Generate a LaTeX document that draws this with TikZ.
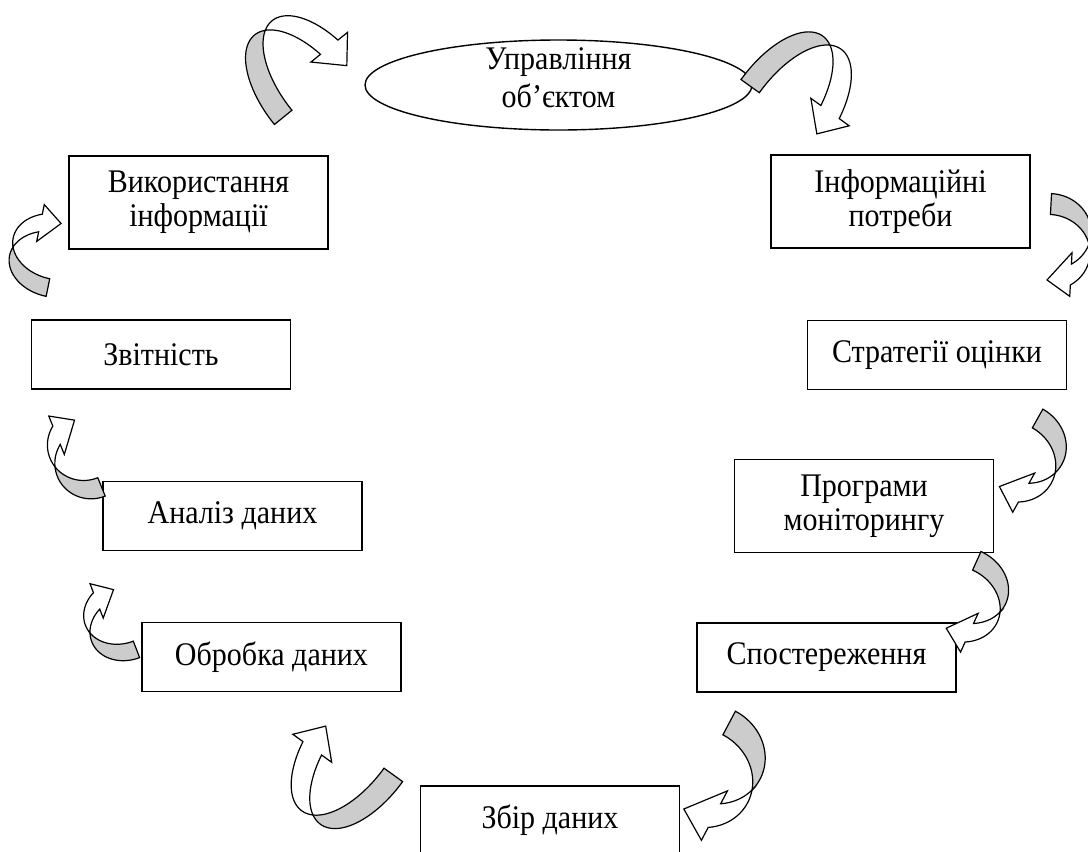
\documentclass[tikz,border=0pt]{standalone}
\usepackage{fontspec}
\setmainfont{Liberation Serif}[FakeStretch=0.91]
\usetikzlibrary{positioning}
\usetikzlibrary{shapes.geometric}

\tikzset{
  stage/.style={draw, line width=0.7pt, align=center, inner sep=0pt,
    font=\fontsize{16.5}{17}\selectfont, minimum width=129.5pt, minimum height=34.5pt},
  twoline/.style={minimum height=46.5pt},
  backside/.style={draw, line width=0.6pt, fill=black!20},
  frontside/.style={draw, line width=0.6pt, fill=white}
}

% curved ribbon arrow: #1 centre, #2 rotation, #3 depth, #4 half span
\newcommand{\ribbonarrow}[4]{%
  \begin{scope}[shift={#1}, rotate=#2]
    \pgfmathsetmacro{\rbnA}{#3}
    \pgfmathsetmacro{\rbnB}{#4}
    \pgfmathsetmacro{\rbnT}{0.55*\rbnB}
    \pgfmathsetmacro{\rbnH}{0.62*\rbnB}
    \pgfmathsetmacro{\rbnE}{0.3*\rbnB}
    \pgfmathsetmacro{\rbnAl}{asin(\rbnT/(2*\rbnB))}
    \pgfmathsetmacro{\rbnF}{180+\rbnAl}
    \pgfmathsetmacro{\rbnG}{180-\rbnAl}
    \pgfmathsetmacro{\rbnK}{360-acos(-\rbnH/\rbnA)}
    \pgfmathsetmacro{\rbnI}{\rbnT/2+\rbnB*sin(\rbnK)+\rbnE}
    \pgfmathsetmacro{\rbnO}{-\rbnT/2+\rbnB*sin(\rbnK)-\rbnE}
    % back of the ribbon
    \draw[backside] plot[domain=90:\rbnF, samples=30] ({\rbnA*cos(\x)},{\rbnT/2+\rbnB*sin(\x)})
      -- plot[domain=\rbnG:90, samples=30] ({\rbnA*cos(\x)},{-\rbnT/2+\rbnB*sin(\x)}) -- cycle;
    % front of the ribbon with the head
    \draw[frontside] plot[domain=\rbnF:\rbnK, samples=30] ({\rbnA*cos(\x)},{\rbnT/2+\rbnB*sin(\x)})
      -- ({-\rbnH},\rbnI) -- ({0},{-\rbnB}) -- ({-\rbnH},\rbnO)
      -- plot[domain=\rbnK:\rbnG, samples=30] ({\rbnA*cos(\x)},{-\rbnT/2+\rbnB*sin(\x)}) -- cycle;
  \end{scope}}

\begin{document}
\begin{tikzpicture}[x=0.5pt, y=-0.5pt]
\useasboundingbox (0,0) rectangle (1088,852);

% --- object in the middle of the top ---
\node[ellipse, draw, line width=0.7pt, minimum width=193.5pt, minimum height=45pt,
  inner sep=0pt] (upr) at (558.5,85) {};
\node[align=center, inner sep=0pt, font=\fontsize{16.5}{19}\selectfont]
  (uprtext) at (558.5,78) {Управління\\об’єктом};

% --- right branch ---
\node[stage, twoline] (potreby) at (900.5,201.5) {Інформаційні\\потреби};
\node[stage] (strat) at (937,355) {Стратегії оцінки};
\node[stage, twoline] (prog) at (864,506) {Програми\\моніторингу};
\node[stage] (spost) at (826.5,657.5) {Спостереження};

% --- bottom ---
\node[stage, minimum height=34pt] (zbir) at (550,820) {Збір даних};

% --- left branch ---
\node[stage] (obrob) at (271.5,657) {Обробка даних};
\node[stage] (analiz) at (232.5,516) {Аналіз даних};
\node[stage] (zvit) at (161,354.5) {Звітність};
\node[stage, twoline] (vykor) at (198.5,202.5) {Використання\\інформації};

% --- curved arrows between the stages ---
\ribbonarrow{(315,91.5)}{-50.9}{82}{41}
\ribbonarrow{(783.5,110)}{-125.6}{83}{41}
\ribbonarrow{(1049,242)}{-183}{41.6}{38}
\ribbonarrow{(1018.5,452.5)}{-209.3}{43.6}{39}
\ribbonarrow{(961.5,594.5)}{-204.4}{44}{37}
\ribbonarrow{(706.5,766)}{-207.8}{53.5}{48.6}
\ribbonarrow{(359.5,750.5)}{54.2}{82.7}{41.7}
\ribbonarrow{(125,619.5)}{21}{39}{32}
\ribbonarrow{(88,453.5)}{22}{37}{36}
\ribbonarrow{(54.5,255.5)}{-11.6}{44}{32.7}

\end{tikzpicture}
\end{document}
